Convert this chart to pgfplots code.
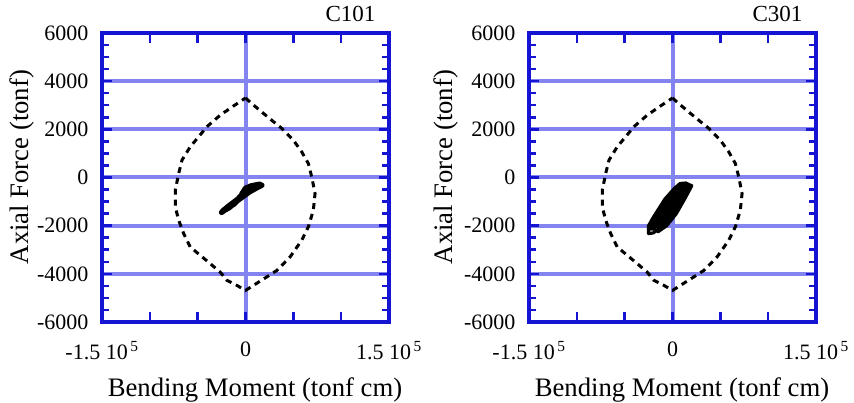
\documentclass[border=0pt]{standalone}
\usepackage{pgfplots}
\pgfplotsset{compat=1.18}
\usepackage{fontspec}
\setmainfont{Liberation Serif}
\definecolor{axblue}{RGB}{20,20,210}
\definecolor{gridblue}{RGB}{132,132,240}

\pgfplotstableread{
m n
0 3300
8300 3010
18800 2660
29200 2320
37900 2040
50000 1550
58700 1070
65700 580
69200 30
72700 -670
70900 -1360
65700 -2050
58700 -2610
46600 -3300
32700 -3860
22200 -4130
8300 -4480
0 -4690
-9000 -4480
-19500 -4270
-26400 -3930
-36800 -3580
-47300 -3230
-57700 -2890
-64600 -2330
-69800 -1780
-73400 -1220
-73400 -530
-69800 170
-66400 720
-57700 1280
-49000 1690
-40300 2110
-26400 2590
-12500 2970
0 3300
}\envelope

\tikzset{gl/.style={gridblue, line width=4pt}}
\pgfplotsset{
  mnplot/.style={
    scale only axis, width=287pt, height=289pt,
    xmin=-150000, xmax=150000, ymin=-6000, ymax=6000,
    xtick={-150000,-100000,-50000,0,50000,100000,150000},
    xticklabels={{-1.5 10\textsuperscript{\,5}},,,{0},,,{1.5 10\textsuperscript{\,5}}},
    ytick={-6000,-4000,-2000,0,2000,4000,6000},
    yticklabels={-6000,-4000,-2000,0,2000,4000,6000},
    minor y tick num=3,
    scaled ticks=false,
    tick align=inside,
    major tick length=10pt, minor tick length=7pt,
    tick style={axblue, line width=2.5pt},
    axis line style={axblue, line width=4pt},
    axis on top,
    tick label style={font=\fontsize{22}{24}\selectfont},
    xticklabel style={yshift=-16pt},
    yticklabel style={xshift=-10pt},
    label style={font=\fontsize{26.7}{30}\selectfont},
    xlabel={Bending Moment (tonf cm)},
    ylabel={Axial Force (tonf)},
    xlabel style={at={(axis description cs:0.533,-0.235)}, anchor=center},
    ylabel style={at={(axis description cs:-0.28,0.536)}, anchor=center, rotate=0},
    title style={at={(axis description cs:0.965,1.02)}, anchor=base east, yshift=0pt},
  },
  envstyle/.style={black, line width=3pt, dash pattern=on 6pt off 5pt},
}
% grid lines at the labelled y ticks and at zero moment
\newcommand{\mngrid}{%
  \draw[gl] (axis cs:-150000,-4000) -- (axis cs:150000,-4000);
  \draw[gl] (axis cs:-150000,-2000) -- (axis cs:150000,-2000);
  \draw[gl] (axis cs:-150000,0) -- (axis cs:150000,0);
  \draw[gl] (axis cs:-150000,2000) -- (axis cs:150000,2000);
  \draw[gl] (axis cs:-150000,4000) -- (axis cs:150000,4000);
  \draw[gl] (axis cs:0,-6000) -- (axis cs:0,6000);
}

\begin{document}
\begin{tikzpicture}
\path[use as bounding box] (0,0) rectangle (854pt,403pt);

\begin{axis}[mnplot, at={(102pt,81pt)}, anchor=south west, title={\fontsize{23}{25}\selectfont C101}]
\mngrid
\addplot[envstyle] table[x=m, y=n] {\envelope};
\addplot[black, line width=5.5pt, line join=round, line cap=round] coordinates {
(-25000,-1450) (-20000,-1300) (-12000,-1100) (-6000,-850) (0,-650) (5000,-450)
(10000,-350) (17000,-320) (12000,-420) (4000,-600) (-3000,-800) (-10000,-1000)
(-17000,-1250) (-24000,-1400) (-18000,-1200) (-8000,-900) (0,-550) (8000,-400)
(15000,-280) (6000,-350) (0,-450) (-4000,-700) (2000,-600) (9000,-470)
};
\end{axis}

\begin{axis}[mnplot, at={(529pt,81pt)}, anchor=south west, title={\fontsize{23}{25}\selectfont C301},
  ylabel style={at={(axis description cs:-0.29,0.536)}}]
\mngrid
\addplot[envstyle] table[x=m, y=n] {\envelope};
\addplot[black, line width=3.2pt, line join=round] coordinates {
(0,-1000) (6000,-600) (10000,-500) (3000,-900) (-6000,-1300) (-10000,-1500)
(-4000,-1100) (8000,-450) (13000,-350) (6000,-750) (-8000,-1500) (-16000,-1900)
(-12000,-1550) (-2000,-900) (10000,-300) (17000,-280) (12000,-600) (0,-1200)
(-14000,-1900) (-22000,-2150) (-22000,-1950) (-18000,-1600) (-6000,-950) (5000,-400)
(12000,-250) (20000,-330) (15000,-650) (3000,-1350) (-10000,-2000) (-20000,-2300)
(-25000,-2330) (-25000,-2000) (-20000,-1650) (-8000,-900) (2000,-450) (8000,-250)
(14000,-230) (20000,-350) (14000,-800) (4000,-1500) (-6000,-2000) (-15000,-2250)
(-21000,-2100) (-12000,-1500) (-2000,-1000) (6000,-550) (12000,-400) (4000,-800)
(-6000,-1250) (-14000,-1700) (-18000,-1900) (-10000,-1300) (0,-700) (10000,-350)
(16000,-400) (8000,-750) (-2000,-1250) (-10000,-1700) (-17000,-2050) (-8000,-1550)
(2000,-1050) (11000,-650) (6000,-950) (-4000,-1500) (-13000,-2000) (-6000,-1750)
(3000,-1250)
};
\end{axis}
\end{tikzpicture}
\end{document}
